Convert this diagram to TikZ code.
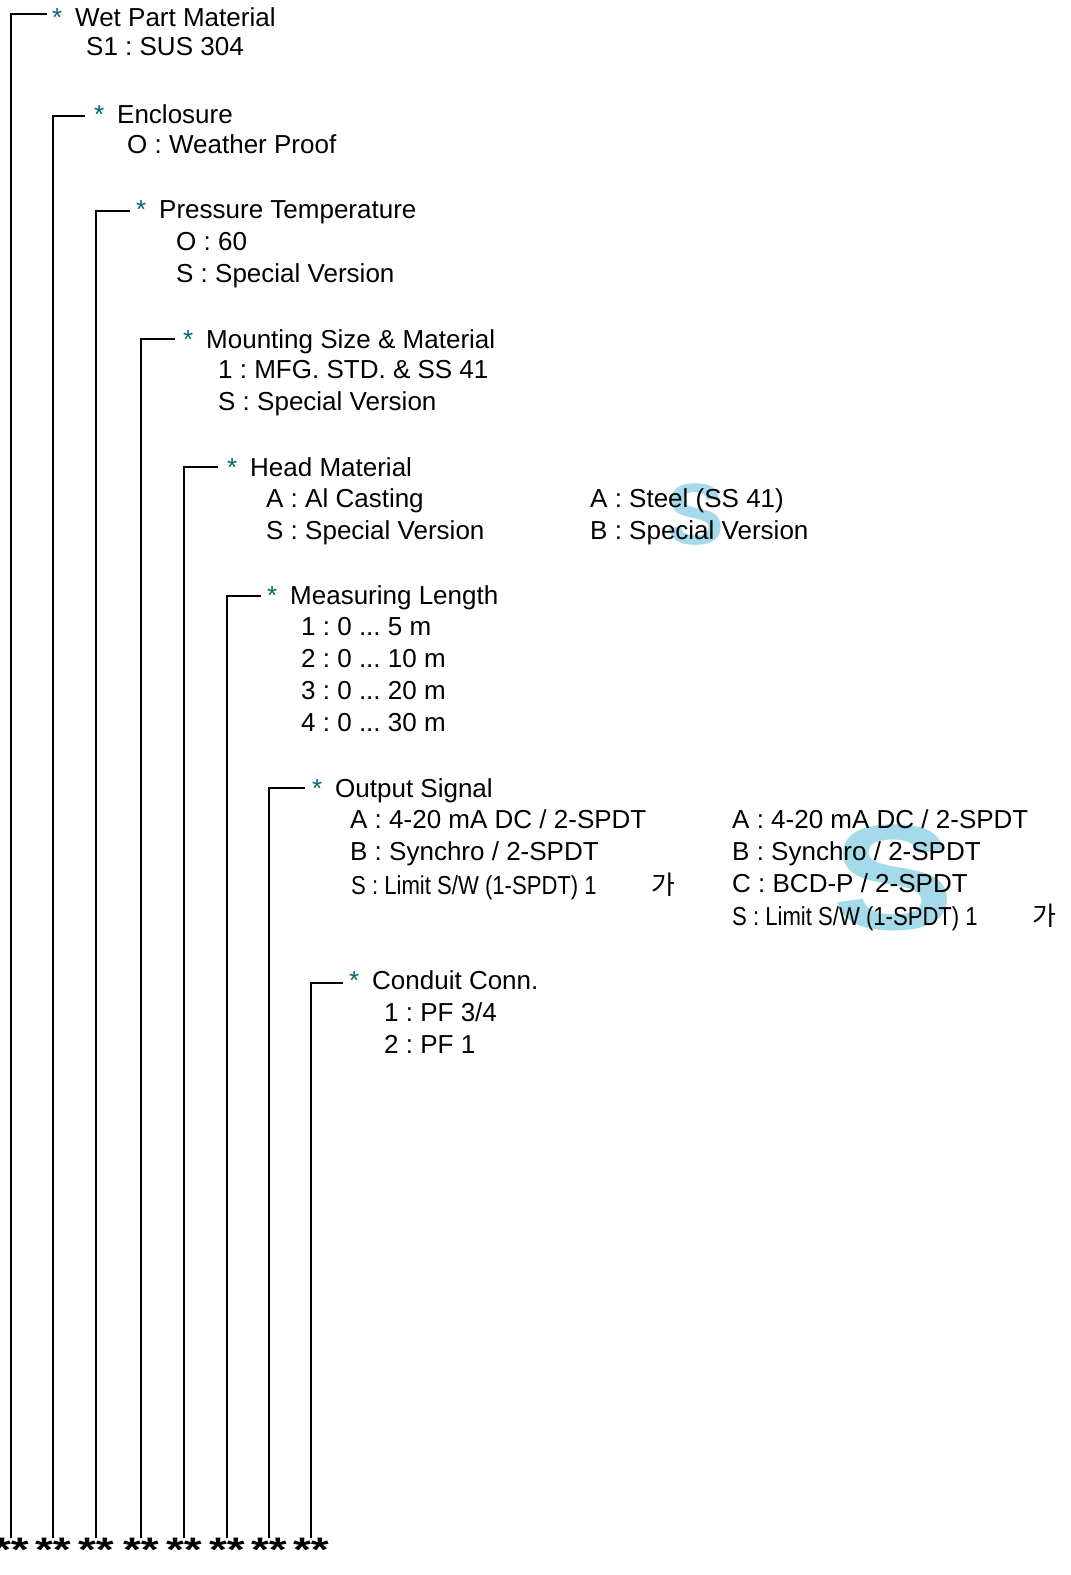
\documentclass[tikz,border=0pt]{standalone}
\usepackage{fontspec}
\setmainfont{Liberation Sans}
\newfontfamily\kr{Noto Sans CJK KR}
\usepackage{tikz}

\definecolor{starc}{RGB}{0,104,112}
\definecolor{wmark}{RGB}{165,218,234}

\tikzset{
  head/.style={anchor=base west, inner sep=0pt},
  item/.style={anchor=base west, inner sep=0pt},
  stars/.style={anchor=base, inner sep=0pt, text height=23pt,
    font=\fontsize{34}{34}\selectfont\bfseries},
  wm/.style={anchor=base, inner sep=0pt, text=wmark},
  tree/.style={line width=1.8pt},
}
\newcommand{\hd}[1]{\llap{\textcolor{starc}{*}\hspace{13pt}}#1}
\newcommand{\limsw}[1]{\scalebox{0.85}[1]{#1}}

\begin{document}
\frenchspacing
\begin{tikzpicture}[x=1pt,y=-1pt,font=\fontsize{26}{32}\selectfont]
\useasboundingbox (0,0) rectangle (1071,1575);
% watermark letters
\node[wm,font=\fontsize{87}{87}\selectfont\bfseries] (wm1) at (696,544) {S};
\node[wm,font=\fontsize{150}{150}\selectfont\bfseries] (wm2) at (894,929) {\scalebox{1.22}[1]{S}};

% headings
\node[head] (h1) at (75,26) {\hd{Wet Part Material}};
\node[head] (h2) at (117,123) {\hd{Enclosure}};
\node[head] (h3) at (159,218.5) {\hd{Pressure Temperature}};
\node[head] (h4) at (206,348) {\hd{Mounting Size \& Material}};
\node[head] (h5) at (250,476.5) {\hd{Head Material}};
\node[head] (h6) at (290,604) {\hd{Measuring Length}};
\node[head] (h7) at (335,797) {\hd{Output Signal}};
\node[head] (h8) at (372,989) {\hd{Conduit Conn.}};

% codes
\node[item] (wp1) at (86,55.5) {S1 : SUS 304};
\node[item] (en1) at (127,153) {O : Weather Proof};
\node[item] (pt1) at (176,250.5) {O : 60};
\node[item] (pt2) at (176,282) {S : Special Version};
\node[item] (ms1) at (218,378) {1 : MFG. STD. \& SS 41};
\node[item] (ms2) at (218,410) {S : Special Version};
\node[item] (hm1) at (266,507.5) {A : Al Casting};
\node[item] (hm2) at (266,539) {S : Special Version};
\node[item] (hm3) at (590,507.5) {A : Steel (SS 41)};
\node[item] (hm4) at (590,539) {B : Special Version};
\node[item] (ml1) at (301,635.5) {1 : 0 ... 5 m};
\node[item] (ml2) at (301,667.5) {2 : 0 ... 10 m};
\node[item] (ml3) at (301,699.5) {3 : 0 ... 20 m};
\node[item] (ml4) at (301,731.5) {4 : 0 ... 30 m};
\node[item] (os1) at (350,828) {A : 4-20 mA DC / 2-SPDT};
\node[item] (os2) at (350,860) {B : Synchro / 2-SPDT};
\node[item] (os3) at (351,894) {\limsw{S : Limit S/W (1-SPDT) 1}};
\node[item] (os3k) at (651,894) {\kr 가};
\node[item] (os4) at (732,828) {A : 4-20 mA DC / 2-SPDT};
\node[item] (os5) at (732,860) {B : Synchro / 2-SPDT};
\node[item] (os6) at (732,892.5) {C : BCD-P / 2-SPDT};
\node[item] (os7) at (732,925.5) {\limsw{S : Limit S/W (1-SPDT) 1}};
\node[item] (os7k) at (1032,925.5) {\kr 가};
\node[item] (cc1) at (384,1021) {1 : PF 3/4};
\node[item] (cc2) at (384,1053) {2 : PF 1};

% line ends
\coordinate (e1) at (47,14);
\coordinate (e2) at (85,116);
\coordinate (e3) at (130,211);
\coordinate (e4) at (175,339);
\coordinate (e5) at (218,467);
\coordinate (e6) at (261,596);
\coordinate (e7) at (305,788);
\coordinate (e8) at (343,983);

% code string and tree
\foreach \x [count=\i] in {11,53,96,141,184,227,269,311}
  \node[stars] (s\i) at (\x,1561) {\scalebox{1.35}[1]{**}};
\foreach \i in {1,...,8}
  \draw[tree] (s\i.north) |- (e\i);
\end{tikzpicture}
\end{document}
